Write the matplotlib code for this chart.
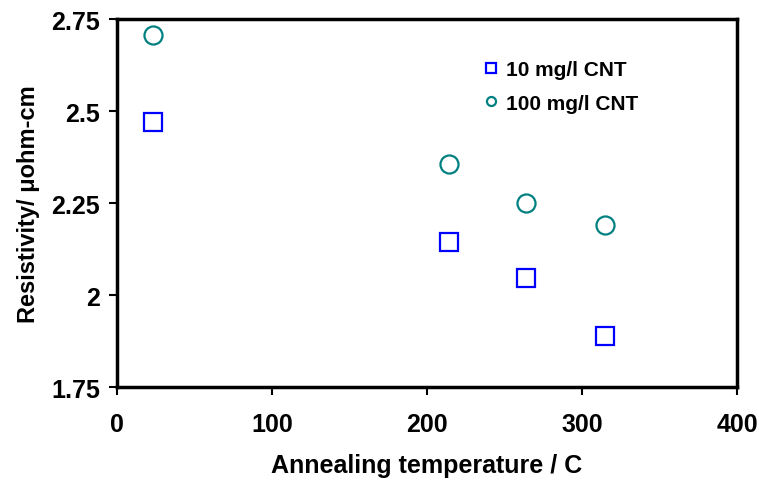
import matplotlib.pyplot as plt

plt.rcParams['font.family'] = ['Liberation Sans', 'DejaVu Sans']
plt.rcParams['font.weight'] = 'bold'

# annealing temperature (C) and resistivity (micro-ohm cm)
temp = [23, 214, 264, 315]
res_10 = [2.47, 2.145, 2.047, 1.89]
res_100 = [2.708, 2.357, 2.25, 2.192]

fig = plt.figure(figsize=(7.59, 4.81), dpi=100)
ax = fig.add_axes([0.154, 0.193, 0.817, 0.765])

ax.plot(temp, res_10, 's', ms=13, mfc='none', mec='#0000ff', mew=1.6,
        label='10 mg/l CNT')
ax.plot(temp, res_100, 'o', ms=13, mfc='none', mec='#008080', mew=1.6,
        label='100 mg/l CNT')

ax.set_xlim(0, 400)
ax.set_ylim(1.75, 2.75)
ax.set_xticks([0, 100, 200, 300, 400])
ax.set_yticks([1.75, 2, 2.25, 2.5, 2.75])
ax.set_yticklabels(['1.75', '2', '2.25', '2.5', '2.75'])

for s in ax.spines.values():
    s.set_linewidth(2.5)
ax.tick_params(direction='out', length=6, width=1.5, labelsize=18, pad=6)
ax.tick_params(axis='x', pad=12)

ax.set_xlabel('Annealing temperature / C', fontsize=18, fontweight='bold',
              labelpad=12)
ax.set_ylabel('Resistivity/ μohm-cm', fontsize=17, fontweight='bold',
              labelpad=8)

leg = ax.legend(loc='upper left', bbox_to_anchor=(0.56, 0.94), frameon=False,
                fontsize=15, markerscale=0.5, handletextpad=0.3,
                labelspacing=0.7, handlelength=0.8)

fig.savefig('out.png', dpi=100)
